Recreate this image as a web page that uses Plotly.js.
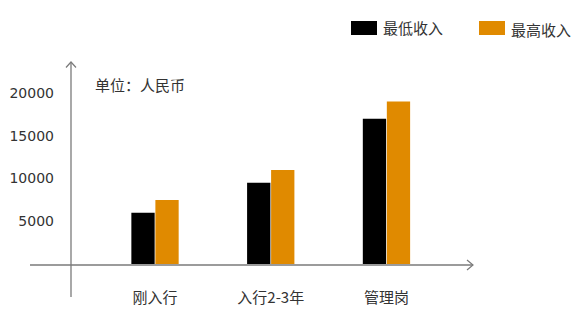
<!DOCTYPE html>
<html><head><meta charset="utf-8">
<script src="https://cdn.plot.ly/plotly-3.0.1.min.js"></script>
<style>html,body{margin:0;padding:0;background:#fff;}#chart{width:577px;height:317px;}</style>
</head><body><div id="chart"></div>
<script>
const categories = ["刚入行", "入行2-3年", "管理岗"];
const seriesNames = ["最低收入", "最高收入"];
const minIncome = [6000, 9500, 17000];
const maxIncome = [7500, 11000, 19000];
const yTickVals = [5000, 10000, 15000, 20000];
const yTickText = ["5000", "10000", "15000", "20000"];
const unitLabel = "单位：人民币";

const colors = ["#000000", "#E08A00"];
const W = 577, H = 317;
const L = 71, R = 475, T = 60, B = 280;
const px = x => (x - L) / (R - L);
const py = y => (B - y) / (B - T);
const font = "Noto Sans CJK SC, DejaVu Sans, sans-serif";
const axisColor = "#7a7a7a";

const traces = [minIncome, maxIncome].map((vals, i) => ({
  type: "bar", x: [0, 1, 2], y: vals, name: seriesNames[i],
  marker: {color: colors[i], line: {width: 0}}, showlegend: false, hoverinfo: "none"
}));

const shapes = [
  {type: "line", xref: "paper", yref: "paper", x0: px(71), x1: px(71), y0: py(297), y1: py(62), line: {color: axisColor, width: 1.3}},
  {type: "path", xref: "paper", yref: "paper", path: `M ${px(66)} ${py(67.5)} L ${px(71)} ${py(62)} L ${px(76)} ${py(67.5)}`, line: {color: axisColor, width: 1.2}},
  {type: "line", xref: "paper", yref: "paper", x0: px(30), x1: px(473), y0: py(265), y1: py(265), line: {color: axisColor, width: 1.3}},
  {type: "path", xref: "paper", yref: "paper", path: `M ${px(467)} ${py(260)} L ${px(473)} ${py(265)} L ${px(467)} ${py(270)}`, line: {color: axisColor, width: 1.2}},
  {type: "rect", xref: "paper", yref: "paper", x0: px(351), x1: px(377), y0: py(35), y1: py(21), fillcolor: colors[0], line: {width: 0}},
  {type: "rect", xref: "paper", yref: "paper", x0: px(479), x1: px(505), y0: py(35), y1: py(21), fillcolor: colors[1], line: {width: 0}}
];

const annotations = [
  {xref: "paper", yref: "paper", x: px(93), y: py(84), xanchor: "left", yanchor: "middle", text: unitLabel, showarrow: false, font: {family: font, size: 15, color: "#333"}},
  {xref: "paper", yref: "paper", x: px(381), y: py(28), xanchor: "left", yanchor: "middle", text: seriesNames[0], showarrow: false, font: {family: font, size: 15, color: "#333"}},
  {xref: "paper", yref: "paper", x: px(509), y: py(29), xanchor: "left", yanchor: "middle", text: seriesNames[1], showarrow: false, font: {family: font, size: 15, color: "#333"}}
];

const layout = {
  width: W, height: H,
  margin: {l: L, r: W - R, t: T, b: H - B, pad: 0},
  paper_bgcolor: "#fff", plot_bgcolor: "#fff",
  barmode: "group", bargap: 0.585, bargroupgap: 0.03,
  showlegend: false,
  xaxis: {range: [-0.726, 2.765], tickvals: [0, 1, 2], ticktext: categories, showgrid: false, zeroline: false, showline: false, ticks: "", ticklabelstandoff: 7, tickfont: {family: font, size: 15, color: "#333"}, fixedrange: true},
  yaxis: {range: [-1871, 23860], tickvals: yTickVals, ticktext: yTickText, showgrid: false, zeroline: false, showline: false, ticks: "", ticklabelstandoff: 16, tickfont: {family: "DejaVu Sans, sans-serif", size: 14, color: "#333"}, fixedrange: true},
  shapes: shapes, annotations: annotations
};

Plotly.newPlot("chart", traces, layout, {displayModeBar: false, staticPlot: true});
</script></body></html>
